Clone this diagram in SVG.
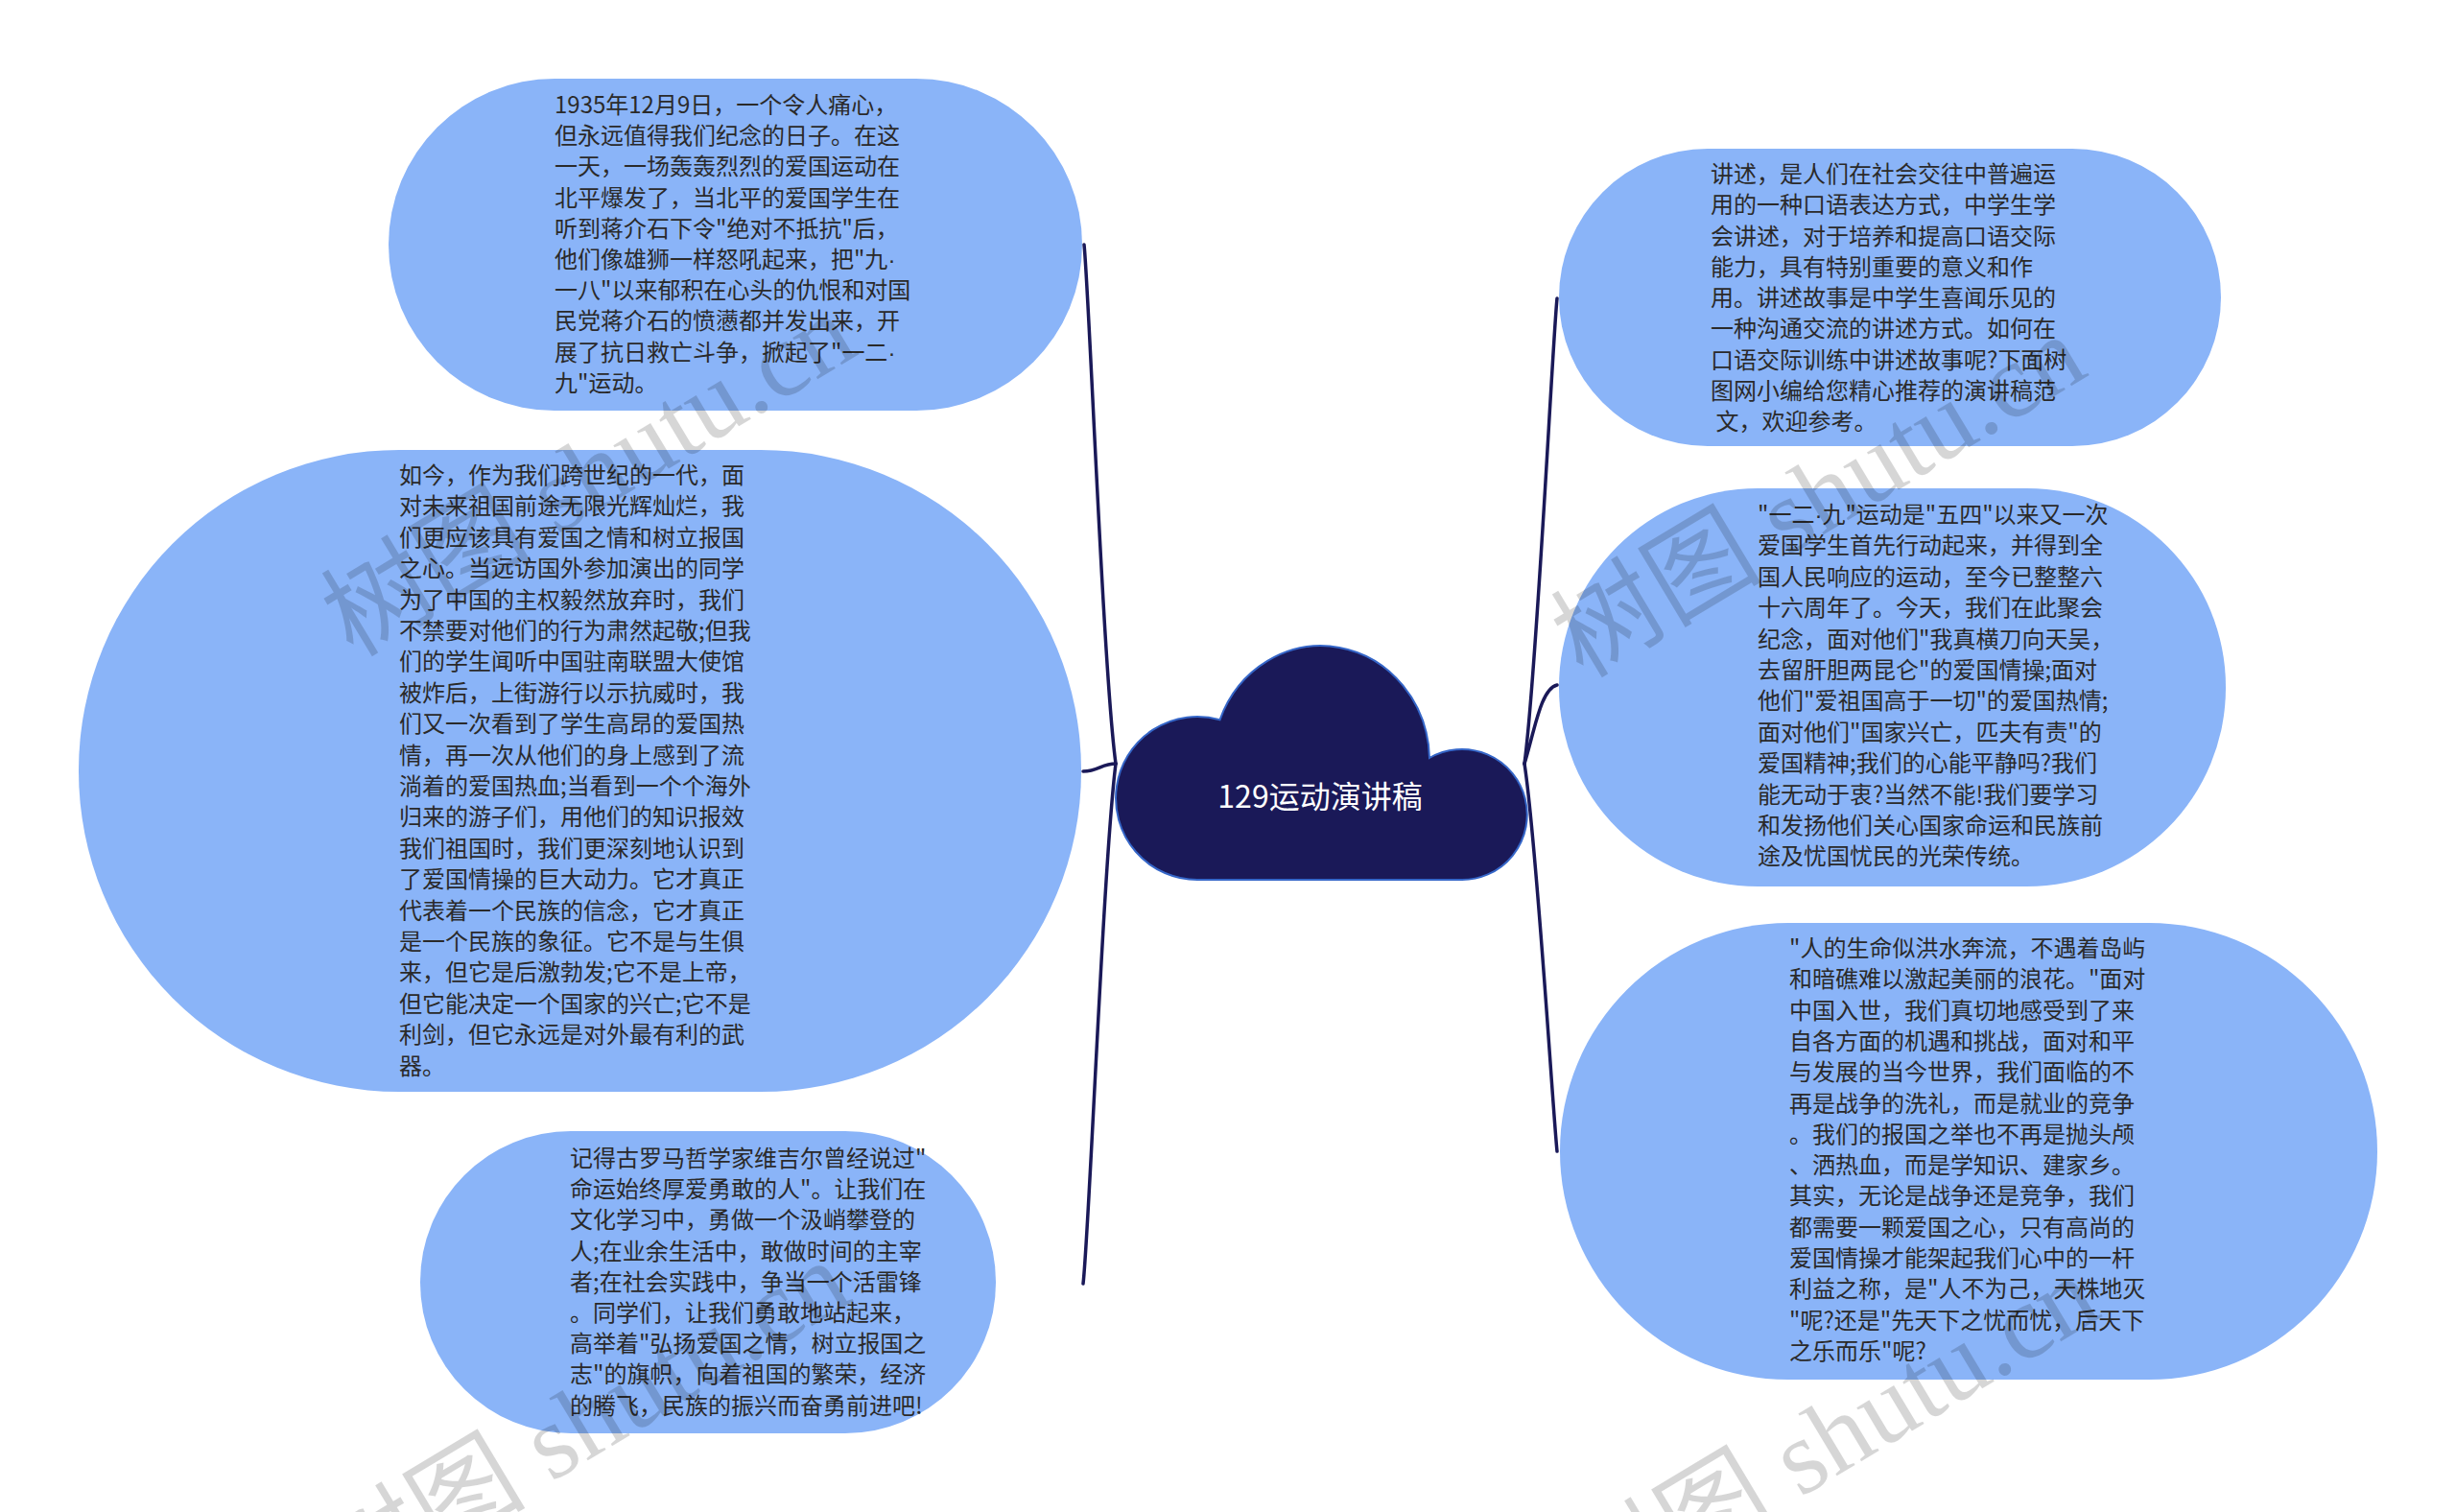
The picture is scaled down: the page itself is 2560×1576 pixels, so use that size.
<svg xmlns="http://www.w3.org/2000/svg" width="2560" height="1576" viewBox="0 0 2560 1576">
<style>
.node{fill:#8ab4f8;}
.t{font-family:"Noto Sans CJK SC","Liberation Sans",sans-serif;font-size:24px;fill:#2a2a2a;}
.d{font-family:"Liberation Sans",sans-serif;}
.conn{fill:none;stroke:#1a1958;stroke-width:3.5;stroke-linecap:round;}
.wm{font-family:"Liberation Serif","Noto Sans CJK SC",serif;font-size:110px;fill:#000;fill-opacity:0.16;}
</style>
<rect width="2560" height="1576" fill="#fff"/>
<g id="connectors">
<path class="conn" d="M1163 796 C1150 700 1135 300 1130 255"/>
<path class="conn" d="M1163 796 C1148 796 1145 804 1129 804"/>
<path class="conn" d="M1163 796 C1150 900 1135 1290 1129 1338"/>
<path class="conn" d="M1589 796 C1602 700 1618 360 1623 311"/>
<path class="conn" d="M1589 796 C1600 760 1606 718 1623 714"/>
<path class="conn" d="M1589 796 C1602 880 1618 1150 1623 1200"/>
</g>
<g id="center">
<path d="M1248 917 A85 85 0 1 1 1271.5 750.3 A113 120 0 0 1 1490 790 A68 68 0 1 1 1522 917 Z" fill="#1a1958" stroke="#3566c8" stroke-width="2"/>
<text x="1376" y="842" text-anchor="middle" font-family="'Noto Sans CJK SC','Liberation Sans',sans-serif" font-size="32" fill="#fff">129运动演讲稿</text>
</g>
<g id="node-l1">
<rect class="node" x="405" y="82" width="723" height="346" rx="173" ry="173"/>
<text class="t" x="578" y="118"><tspan x="578">1935年12月9日，一个令人痛心，</tspan><tspan x="578" dy="32.2">但永远值得我们纪念的日子。在这</tspan><tspan x="578" dy="32.2">一天，一场轰轰烈烈的爱国运动在</tspan><tspan x="578" dy="32.2">北平爆发了，当北平的爱国学生在</tspan><tspan x="578" dy="32.2">听到蒋介石下令"绝对不抵抗"后，</tspan><tspan x="578" dy="32.2">他们像雄狮一样怒吼起来，把"九<tspan class="d">·</tspan></tspan><tspan x="578" dy="32.2">一八"以来郁积在心头的仇恨和对国</tspan><tspan x="578" dy="32.2">民党蒋介石的愤懑都并发出来，开</tspan><tspan x="578" dy="32.2">展了抗日救亡斗争，掀起了"一二<tspan class="d">·</tspan></tspan><tspan x="578" dy="32.2">九"运动。</tspan></text>
</g>
<g id="node-l2">
<rect class="node" x="82" y="469" width="1045" height="669" rx="334" ry="334"/>
<text class="t" x="416" y="504"><tspan x="416">如今，作为我们跨世纪的一代，面</tspan><tspan x="416" dy="32.4">对未来祖国前途无限光辉灿烂，我</tspan><tspan x="416" dy="32.4">们更应该具有爱国之情和树立报国</tspan><tspan x="416" dy="32.4">之心。当远访国外参加演出的同学</tspan><tspan x="416" dy="32.4">为了中国的主权毅然放弃时，我们</tspan><tspan x="416" dy="32.4">不禁要对他们的行为肃然起敬;但我</tspan><tspan x="416" dy="32.4">们的学生闻听中国驻南联盟大使馆</tspan><tspan x="416" dy="32.4">被炸后，上街游行以示抗威时，我</tspan><tspan x="416" dy="32.4">们又一次看到了学生高昂的爱国热</tspan><tspan x="416" dy="32.4">情，再一次从他们的身上感到了流</tspan><tspan x="416" dy="32.4">淌着的爱国热血;当看到一个个海外</tspan><tspan x="416" dy="32.4">归来的游子们，用他们的知识报效</tspan><tspan x="416" dy="32.4">我们祖国时，我们更深刻地认识到</tspan><tspan x="416" dy="32.4">了爱国情操的巨大动力。它才真正</tspan><tspan x="416" dy="32.4">代表着一个民族的信念，它才真正</tspan><tspan x="416" dy="32.4">是一个民族的象征。它不是与生俱</tspan><tspan x="416" dy="32.4">来，但它是后激勃发;它不是上帝，</tspan><tspan x="416" dy="32.4">但它能决定一个国家的兴亡;它不是</tspan><tspan x="416" dy="32.4">利剑，但它永远是对外最有利的武</tspan><tspan x="416" dy="32.4">器。</tspan></text>
</g>
<g id="node-l3">
<rect class="node" x="438" y="1179" width="600" height="315" rx="157" ry="157"/>
<text class="t" x="594" y="1216"><tspan x="594">记得古罗马哲学家维吉尔曾经说过"</tspan><tspan x="594" dy="32.2">命运始终厚爱勇敢的人"。让我们在</tspan><tspan x="594" dy="32.2">文化学习中，勇做一个汲峭攀登的</tspan><tspan x="594" dy="32.2">人;在业余生活中，敢做时间的主宰</tspan><tspan x="594" dy="32.2">者;在社会实践中，争当一个活雷锋</tspan><tspan x="594" dy="32.2">。同学们，让我们勇敢地站起来，</tspan><tspan x="594" dy="32.2">高举着"弘扬爱国之情，树立报国之</tspan><tspan x="594" dy="32.2">志"的旗帜，向着祖国的繁荣，经济</tspan><tspan x="594" dy="32.2">的腾飞，民族的振兴而奋勇前进吧!</tspan></text>
</g>
<g id="node-r1">
<rect class="node" x="1625" y="155" width="690" height="310" rx="155" ry="155"/>
<text class="t" x="1783" y="190" xml:space="preserve"><tspan x="1783">讲述，是人们在社会交往中普遍运</tspan><tspan x="1783" dy="32.25">用的一种口语表达方式，中学生学</tspan><tspan x="1783" dy="32.25">会讲述，对于培养和提高口语交际</tspan><tspan x="1783" dy="32.25">能力，具有特别重要的意义和作</tspan><tspan x="1783" dy="32.25">用。讲述故事是中学生喜闻乐见的</tspan><tspan x="1783" dy="32.25">一种沟通交流的讲述方式。如何在</tspan><tspan x="1783" dy="32.25">口语交际训练中讲述故事呢?下面树</tspan><tspan x="1783" dy="32.25">图网小编给您精心推荐的演讲稿范</tspan><tspan x="1783" dy="32.25"> 文，欢迎参考。</tspan></text>
</g>
<g id="node-r2">
<rect class="node" x="1625" y="509" width="695" height="415" rx="207" ry="207"/>
<text class="t" x="1832" y="545"><tspan x="1832">"一二<tspan class="d">·</tspan>九"运动是"五四"以来又一次</tspan><tspan x="1832" dy="32.4">爱国学生首先行动起来，并得到全</tspan><tspan x="1832" dy="32.4">国人民响应的运动，至今已整整六</tspan><tspan x="1832" dy="32.4">十六周年了。今天，我们在此聚会</tspan><tspan x="1832" dy="32.4">纪念，面对他们"我真横刀向天吴，</tspan><tspan x="1832" dy="32.4">去留肝胆两昆仑"的爱国情操;面对</tspan><tspan x="1832" dy="32.4">他们"爱祖国高于一切"的爱国热情;</tspan><tspan x="1832" dy="32.4">面对他们"国家兴亡，匹夫有责"的</tspan><tspan x="1832" dy="32.4">爱国精神;我们的心能平静吗?我们</tspan><tspan x="1832" dy="32.4">能无动于衷?当然不能!我们要学习</tspan><tspan x="1832" dy="32.4">和发扬他们关心国家命运和民族前</tspan><tspan x="1832" dy="32.4">途及忧国忧民的光荣传统。</tspan></text>
</g>
<g id="node-r3">
<rect class="node" x="1626" y="962" width="852" height="476" rx="238" ry="238"/>
<text class="t" x="1865" y="997"><tspan x="1865">"人的生命似洪水奔流，不遇着岛屿</tspan><tspan x="1865" dy="32.3">和暗礁难以激起美丽的浪花。"面对</tspan><tspan x="1865" dy="32.3">中国入世，我们真切地感受到了来</tspan><tspan x="1865" dy="32.3">自各方面的机遇和挑战，面对和平</tspan><tspan x="1865" dy="32.3">与发展的当今世界，我们面临的不</tspan><tspan x="1865" dy="32.3">再是战争的洗礼，而是就业的竞争</tspan><tspan x="1865" dy="32.3">。我们的报国之举也不再是抛头颅</tspan><tspan x="1865" dy="32.3">、洒热血，而是学知识、建家乡。</tspan><tspan x="1865" dy="32.3">其实，无论是战争还是竞争，我们</tspan><tspan x="1865" dy="32.3">都需要一颗爱国之心，只有高尚的</tspan><tspan x="1865" dy="32.3">爱国情操才能架起我们心中的一杆</tspan><tspan x="1865" dy="32.3">利益之称，是"人不为己，天株地灭</tspan><tspan x="1865" dy="32.3">"呢?还是"先天下之忧而忧，后天下</tspan><tspan x="1865" dy="32.3">之乐而乐"呢?</tspan></text>
</g>
<g id="watermarks">
<text class="wm" x="368" y="686" transform="rotate(-31 368 686)">树图 shutu.cn</text>
<text class="wm" x="1650" y="708" transform="rotate(-31 1650 708)">树图 shutu.cn</text>
<text class="wm" x="362" y="1673" transform="rotate(-31 362 1673)">树图 shutu.cn</text>
<text class="wm" x="1664" y="1689" transform="rotate(-31 1664 1689)">树图 shutu.cn</text>
</g>
</svg>
